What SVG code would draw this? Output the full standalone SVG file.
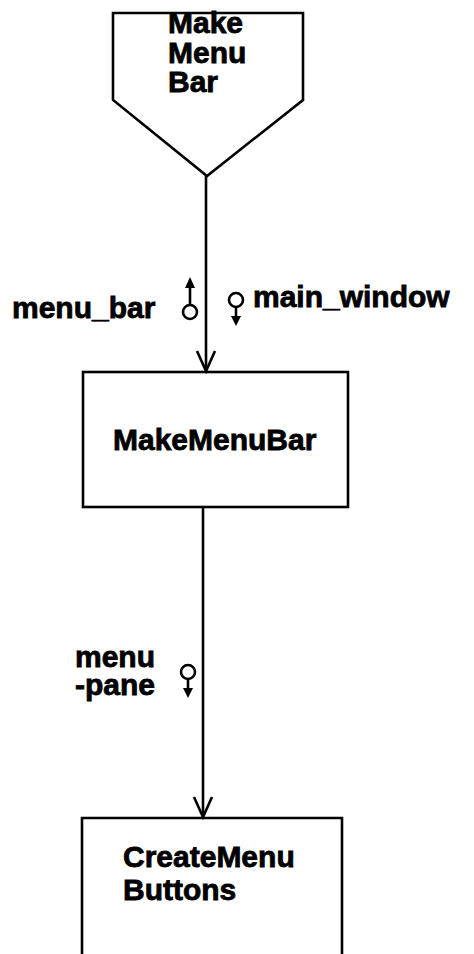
<svg xmlns="http://www.w3.org/2000/svg" width="474" height="954" viewBox="0 0 474 954">
<style>
.s{fill:none;stroke:#000;stroke-width:2.6}
.t{font-family:"Liberation Sans",Arial,sans-serif;font-weight:bold;font-size:30px;fill:#000;stroke:#000;stroke-width:0.8}
.f{fill:#000;stroke:none}
</style>
<rect width="474" height="954" fill="#fff"/>
<g id="node-make-menu-bar-offpage">
<polygon class="s" points="113,13 303,13 303,100 207,176 113,100"/>
<text class="t" x="168" y="33">Make</text>
<text class="t" x="168" y="63">Menu</text>
<text class="t" x="168" y="92">Bar</text>
</g>
<g id="node-makemenubar">
<rect class="s" x="83" y="372" width="265" height="135"/>
<text class="t" x="113" y="450" font-size="31">MakeMenuBar</text>
</g>
<g id="node-createmenubuttons">
<polyline class="s" points="82,960 82,818 342,818 342,960"/>
<text class="t" x="123" y="867">CreateMenu</text>
<text class="t" x="123" y="900">Buttons</text>
</g>
<g id="connectors">
<line class="s" x1="206" y1="176" x2="206" y2="371"/>
<polyline class="s" points="197,351 206,371 215,351"/>
<line class="s" x1="203" y1="507" x2="203" y2="817"/>
<polyline class="s" points="194,797 203,817 212,797"/>
</g>
<g id="label-menu-bar">
<text class="t" x="12" y="318" font-size="31.5">menu_bar</text>
<circle class="s" cx="190" cy="312" r="7"/>
<line class="s" x1="190" y1="305" x2="190" y2="285"/>
<polygon class="f" points="185,288 190,277 195,288"/>
</g>
<g id="label-main-window">
<circle class="s" cx="236" cy="300" r="7"/>
<line class="s" x1="236" y1="307" x2="236" y2="318"/>
<polygon class="f" points="231,316 236,326 241,316"/>
<text class="t" x="253" y="307" font-size="30.5">main_window</text>
</g>
<g id="label-menu-pane">
<text class="t" x="75" y="667">menu</text>
<text class="t" x="75" y="695">-pane</text>
<circle class="s" cx="188" cy="672" r="7"/>
<line class="s" x1="188" y1="679" x2="188" y2="690"/>
<polygon class="f" points="183,688 188,698 193,688"/>
</g>
</svg>
